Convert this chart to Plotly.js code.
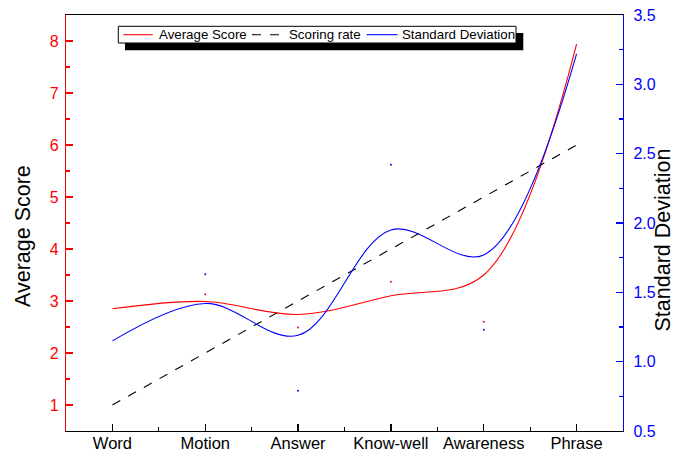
<!DOCTYPE html>
<html>
<head>
<meta charset="utf-8">
<script src="https://cdn.plot.ly/plotly-3.0.1.min.js"></script>
<style>html,body{margin:0;padding:0;background:#fff;}#chart{width:684px;height:455px;}</style>
</head>
<body>
<div id="chart"></div>
<script>
const categories = ["Word", "Motion", "Answer", "Know-well", "Awareness", "Phrase"];
const seriesNames = ["Average Score", "Scoring rate", "Standard Deviation"];
const averageScore = [2.85, 2.99, 2.74, 3.10, 3.50, 7.94];
const scoringRate = [1, 2, 3, 4, 5, 6];
const standardDeviation = [1.15, 1.42, 1.19, 1.95, 1.77, 3.22];
// stray small points visible in the figure
const averageScoreDots = [null, 3.13, 2.49, 3.37, 2.60, null];
const standardDeviationDots = [null, 1.63, 0.79, 2.42, 1.23, null];

const xIdx = categories.map((c, i) => i);
const xMinor = categories.slice(1).map((c, i) => i + 0.5);
const FONT = "Arial, 'Liberation Sans', sans-serif";
const RED = "#ff0000", BLUE = "#0000ff", BLACK = "#000000";

// layout helpers: pixel -> paper coordinates (plot area 66..623 x 15..431)
const W = 684, H = 455, ML = 66, MR = 61, MT = 15, MB = 24;
const PW = W - ML - MR, PH = H - MT - MB;
const px = p => (p - ML) / PW;
const py = p => 1 - (p - MT) / PH;

const colors = [RED, BLACK, BLUE];
const dashes = ["solid", "dash", "solid"];

const traces = [
  {x: xIdx, y: averageScore, name: seriesNames[0], mode: "lines", yaxis: "y", showlegend: false,
   line: {color: RED, width: 1.1, shape: "spline", smoothing: 1}},
  {x: xIdx, y: scoringRate, name: seriesNames[1], mode: "lines", yaxis: "y", showlegend: false,
   line: {color: BLACK, width: 1.1, dash: "dash"}},
  {x: xIdx, y: standardDeviation, name: seriesNames[2], mode: "lines", yaxis: "y2", showlegend: false,
   line: {color: BLUE, width: 1.1, shape: "spline", smoothing: 1}},
  {x: xIdx, y: averageScoreDots, mode: "markers", yaxis: "y", showlegend: false,
   marker: {color: RED, size: 2}},
  {x: xIdx, y: standardDeviationDots, mode: "markers", yaxis: "y2", showlegend: false,
   marker: {color: BLUE, size: 2}}
];

// legend (box with drop shadow, samples and labels)
const legendY = 34.7;
const sampleX = [[123.3, 152.7], [252, 281], [366.6, 397.5]];
const labelX = [157, 286.5, 400];
const shapes = [
  {type: "rect", xref: "paper", yref: "paper", layer: "above",
   x0: px(125), x1: px(523.3), y0: py(50.3), y1: py(33), fillcolor: BLACK, line: {width: 0}},
  {type: "rect", xref: "paper", yref: "paper", layer: "above",
   x0: px(118.3), x1: px(516), y0: py(43), y1: py(26.3), fillcolor: "#fff", line: {color: BLACK, width: 1}}
];
seriesNames.forEach((n, i) => {
  shapes.push({type: "line", xref: "paper", yref: "paper", layer: "above",
    x0: px(sampleX[i][0]), x1: px(sampleX[i][1]), y0: py(legendY), y1: py(legendY),
    line: {color: colors[i], width: 1.1, dash: dashes[i]}});
});
const annotations = seriesNames.map((n, i) => ({
  text: n, xref: "paper", yref: "paper", x: px(labelX[i]), y: py(legendY),
  xanchor: "left", yanchor: "middle", showarrow: false,
  font: {family: FONT, size: 13.3, color: BLACK}
}));
annotations.push({text: seriesNames[0], xref: "paper", yref: "paper", x: px(23), y: py(236),
  textangle: -90, showarrow: false, xanchor: "center", yanchor: "middle",
  font: {family: FONT, size: 21.5, color: BLACK}});
annotations.push({text: seriesNames[2], xref: "paper", yref: "paper", x: px(662.5), y: py(240),
  textangle: -90, showarrow: false, xanchor: "center", yanchor: "middle",
  font: {family: FONT, size: 21.5, color: BLACK}});

const layout = {
  width: W, height: H,
  margin: {l: ML, r: MR, t: MT, b: MB, pad: 0},
  paper_bgcolor: "#fff", plot_bgcolor: "#fff",
  font: {family: FONT, color: BLACK},
  showlegend: false,
  xaxis: {
    range: [-0.5, 5.5], tickmode: "array", tickvals: xIdx, ticktext: categories,
    showline: true, linecolor: BLACK, linewidth: 1.2, mirror: true,
    ticks: "inside", ticklen: 7, tickcolor: BLACK, tickwidth: 1.3,
    minor: {tickmode: "array", tickvals: xMinor, ticks: "inside", ticklen: 4, tickcolor: BLACK, tickwidth: 1.3},
    showgrid: false, zeroline: false, ticklabelstandoff: -3,
    tickfont: {family: FONT, size: 16.5, color: BLACK}
  },
  yaxis: {
    range: [0.5, 8.5], tickmode: "linear", tick0: 1, dtick: 1,
    showline: true, linecolor: RED, linewidth: 1.2,
    ticks: "inside", ticklen: 7, tickcolor: RED, tickwidth: 1.3,
    minor: {tickmode: "linear", tick0: 0.5, dtick: 0.5, ticks: "inside", ticklen: 4, tickcolor: RED, tickwidth: 1.3},
    showgrid: false, zeroline: false, ticklabelstandoff: 3,
    tickfont: {family: FONT, size: 16, color: RED}
  },
  yaxis2: {
    overlaying: "y", side: "right",
    range: [0.5, 3.5], tickmode: "linear", tick0: 0.5, dtick: 0.5, tickformat: ".1f",
    showline: true, linecolor: BLUE, linewidth: 1.2,
    ticks: "inside", ticklen: 7, tickcolor: BLUE, tickwidth: 1.3,
    minor: {tickmode: "linear", tick0: 0.5, dtick: 0.25, ticks: "inside", ticklen: 4, tickcolor: BLUE, tickwidth: 1.3},
    showgrid: false, zeroline: false, ticklabelstandoff: 6,
    tickfont: {family: FONT, size: 16, color: BLUE}
  },
  shapes: shapes,
  annotations: annotations
};

Plotly.newPlot("chart", traces, layout, {displayModeBar: false, staticPlot: true});
</script>
</body>
</html>
